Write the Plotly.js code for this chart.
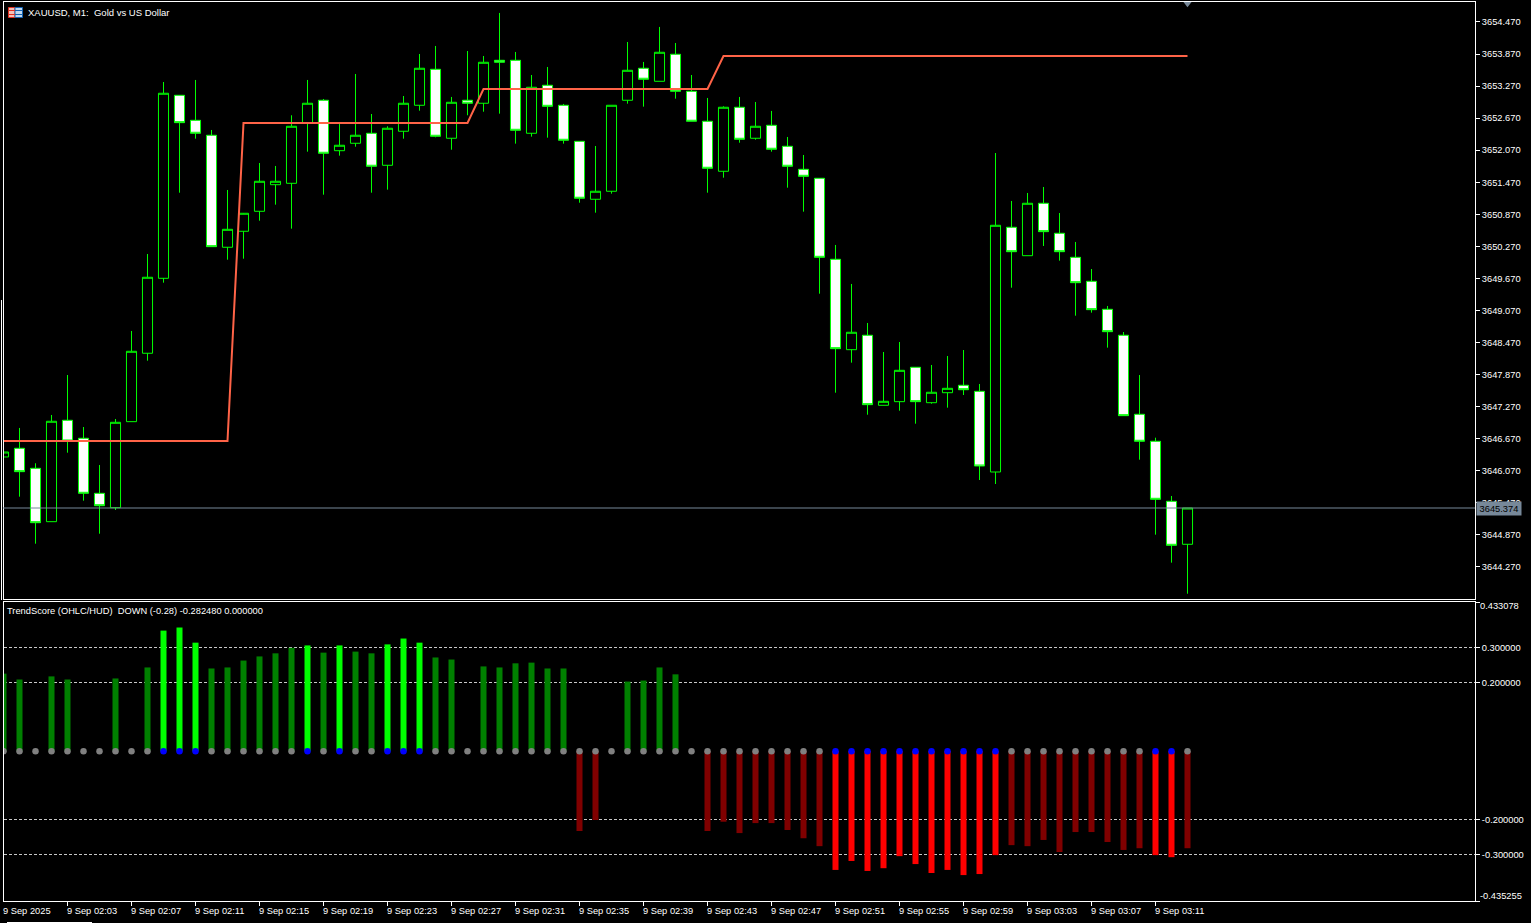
<!DOCTYPE html>
<html>
<head>
<meta charset="utf-8">
<script src="https://cdn.plot.ly/plotly-3.0.1.min.js"></script>
<style>html,body{margin:0;padding:0;background:#000;overflow:hidden}</style>
</head>
<body>
<div id="chart" style="width:1531px;height:923px"></div>
<script>
const bars = [0,1,2,3,4,5,6,7,8,9,10,11,12,13,14,15,16,17,18,19,20,21,22,23,24,25,26,27,28,29,30,31,32,33,34,35,36,37,38,39,40,41,42,43,44,45,46,47,48,49,50,51,52,53,54,55,56,57,58,59,60,61,62,63,64,65,66,67,68,69,70,71,72,73,74];
const open = [3646.329,3646.492,3646.117,3645.118,3647.016,3646.679,3645.649,3645.380,3646.990,3648.270,3649.673,3653.098,3652.630,3652.350,3650.254,3650.553,3650.927,3651.425,3651.451,3652.571,3653.005,3652.061,3652.200,3652.387,3651.788,3652.425,3652.911,3653.585,3652.294,3653.005,3652.949,3653.753,3653.753,3652.387,3653.286,3652.911,3652.237,3651.152,3651.302,3653.005,3653.604,3653.360,3653.866,3653.173,3652.612,3651.676,3652.874,3652.294,3652.537,3652.144,3651.713,3651.545,3650.029,3648.337,3648.607,3647.296,3647.364,3648.008,3647.345,3647.532,3647.671,3647.558,3646.048,3650.628,3650.096,3651.077,3650.516,3650.066,3649.617,3649.093,3648.607,3647.128,3646.623,3645.500,3644.695];
const high = [3646.441,3646.872,3646.211,3647.115,3647.863,3646.890,3646.179,3647.040,3648.687,3650.128,3653.347,3653.098,3653.385,3652.449,3651.326,3650.895,3651.831,3651.775,3652.724,3653.385,3653.029,3652.561,3653.497,3652.748,3652.518,3653.085,3653.871,3654.021,3653.067,3653.927,3653.834,3654.639,3653.909,3653.478,3653.628,3652.936,3652.237,3652.149,3652.911,3654.096,3653.722,3654.377,3654.077,3653.478,3653.048,3652.892,3653.067,3652.973,3652.805,3652.318,3651.981,3651.545,3650.297,3649.567,3648.837,3648.294,3648.481,3648.008,3648.051,3648.219,3648.331,3647.695,3652.018,3651.120,3651.270,3651.382,3650.895,3650.353,3649.847,3649.155,3648.668,3647.863,3646.690,3645.599,3645.374];
const low = [3646.310,3645.586,3644.706,3645.118,3646.409,3645.511,3644.893,3645.337,3646.990,3648.131,3649.591,3651.275,3652.286,3650.265,3650.021,3650.040,3650.751,3651.051,3650.602,3652.043,3651.238,3651.968,3652.136,3651.275,3651.332,3652.286,3652.810,3652.312,3652.080,3652.724,3652.791,3652.754,3652.193,3652.324,3652.305,3652.193,3651.088,3650.901,3651.257,3652.941,3652.885,3653.360,3653.035,3652.612,3651.275,3651.556,3652.211,3652.267,3652.043,3651.369,3650.920,3649.385,3647.532,3648.094,3647.120,3647.296,3647.195,3646.952,3647.326,3647.252,3647.489,3645.898,3645.823,3649.497,3650.096,3650.278,3650.003,3648.973,3649.030,3648.375,3647.102,3646.278,3644.875,3644.351,3643.770];
const close = [3646.422,3646.054,3645.099,3646.997,3646.628,3645.649,3645.417,3646.978,3648.307,3649.692,3653.136,3652.586,3652.387,3650.265,3650.590,3650.890,3651.489,3651.489,3652.518,3652.949,3652.013,3652.163,3652.350,3651.770,3652.481,3652.949,3653.604,3652.331,3652.967,3652.949,3653.716,3653.716,3652.443,3653.248,3652.892,3652.256,3651.171,3651.302,3652.911,3653.566,3653.398,3653.903,3653.173,3652.612,3651.732,3652.874,3652.275,3652.518,3652.088,3651.770,3651.582,3650.066,3648.356,3648.663,3647.308,3647.371,3647.951,3647.364,3647.540,3647.614,3647.588,3646.160,3650.665,3650.171,3651.077,3650.546,3650.171,3649.591,3649.086,3648.674,3647.102,3646.623,3645.537,3644.676,3645.374];
const trend = [3646.628,3646.628,3646.628,3646.628,3646.628,3646.628,3646.628,3646.628,3646.628,3646.628,3646.628,3646.628,3646.628,3646.628,3646.628,3652.580,3652.580,3652.580,3652.580,3652.580,3652.580,3652.580,3652.580,3652.580,3652.580,3652.580,3652.580,3652.580,3652.580,3652.580,3653.216,3653.216,3653.216,3653.216,3653.216,3653.216,3653.216,3653.216,3653.216,3653.216,3653.216,3653.216,3653.216,3653.216,3653.216,3653.834,3653.834,3653.834,3653.834,3653.834,3653.834,3653.834,3653.834,3653.834,3653.834,3653.834,3653.834,3653.834,3653.834,3653.834,3653.834,3653.834,3653.834,3653.834,3653.834,3653.834,3653.834,3653.834,3653.834,3653.834,3653.834,3653.834,3653.834,3653.834,3653.834];
const score = [0.225,0.208,0,0.217,0.208,0,0,0.211,0,0.243,0.350,0.359,0.315,0.240,0.243,0.263,0.275,0.284,0.300,0.307,0.286,0.307,0.289,0.284,0.310,0.327,0.315,0.272,0.266,0,0.246,0.243,0.255,0.257,0.240,0.240,-0.232,-0.200,0,0.202,0.205,0.243,0.223,0,-0.232,-0.205,-0.238,-0.209,-0.209,-0.229,-0.253,-0.276,-0.345,-0.319,-0.348,-0.340,-0.305,-0.328,-0.354,-0.345,-0.360,-0.357,-0.302,-0.273,-0.276,-0.258,-0.293,-0.235,-0.235,-0.264,-0.287,-0.282,-0.302,-0.308,-0.282];
const strong = [0,0,0,0,0,0,0,0,0,0,1,1,1,0,0,0,0,0,0,1,0,1,0,0,1,1,1,0,0,0,0,0,0,0,0,0,0,0,0,0,0,0,0,0,0,0,0,0,0,0,0,0,1,1,1,1,1,1,1,1,1,1,1,0,0,0,0,0,0,0,0,0,1,1,0];
const zeroLine = [0,0,0,0,0,0,0,0,0,0,0,0,0,0,0,0,0,0,0,0,0,0,0,0,0,0,0,0,0,0,0,0,0,0,0,0,0,0,0,0,0,0,0,0,0,0,0,0,0,0,0,0,0,0,0,0,0,0,0,0,0,0,0,0,0,0,0,0,0,0,0,0,0,0,0];
const priceTicks = [3644.27,3644.87,3645.47,3646.07,3646.67,3647.27,3647.87,3648.47,3649.07,3649.67,3650.27,3650.87,3651.47,3652.07,3652.67,3653.27,3653.87,3654.47];
const priceLabels = ["3644.270","3644.870","3645.470","3646.070","3646.670","3647.270","3647.870","3648.470","3649.070","3649.670","3650.270","3650.870","3651.470","3652.070","3652.670","3653.270","3653.870","3654.470"];
const scoreTicks = [-0.435255,-0.3,-0.2,0.2,0.3,0.433078];
const scoreLabels = ["","-0.300000","-0.200000","0.200000","0.300000",""];
const timeTicks = [0,4,8,12,16,20,24,28,32,36,40,44,48,52,56,60,64,68,72];
const timeLabels = ["9 Sep 2025","9 Sep 02:03","9 Sep 02:07","9 Sep 02:11","9 Sep 02:15","9 Sep 02:19","9 Sep 02:23","9 Sep 02:27","9 Sep 02:31","9 Sep 02:35","9 Sep 02:39","9 Sep 02:43","9 Sep 02:47","9 Sep 02:51","9 Sep 02:55","9 Sep 02:59","9 Sep 03:03","9 Sep 03:07","9 Sep 03:11"];
const lastPrice = 3645.374;
const FONT = "Liberation Sans";
const FS = 9.3;
const GREEN = "#00ff00";
const L = 4, T = 2, W = 1471, H = 899;
const px = x => (x - L) / W;
const py = y => (T + H - y) / H;
const xRange = [(L - 3.5) / 16, (L + W - 3.5) / 16];

const candles = {
  type: "candlestick", x: bars, open: open, high: high, low: low, close: close,
  xaxis: "x", yaxis: "y", hoverinfo: "skip", whiskerwidth: 0,
  increasing: {line: {color: GREEN, width: 1}, fillcolor: "#000000"},
  decreasing: {line: {color: GREEN, width: 1}, fillcolor: "#ffffff"}
};
const trendLine = {
  type: "scatter", mode: "lines", x: bars, y: trend, xaxis: "x", yaxis: "y",
  line: {color: "#ff6347", width: 2}, hoverinfo: "skip"
};
const shiftMark = {
  type: "scatter", mode: "markers", x: [74], y: [3654.81], xaxis: "x", yaxis: "y",
  marker: {symbol: "triangle-down", size: 7, color: "#778899"}, hoverinfo: "skip"
};
const barColor = bars.map(i => score[i] >= 0 ? (strong[i] ? "#00ff00" : "#008000") : (strong[i] ? "#ff0000" : "#800000"));
const scoreBars = {
  type: "bar", x: bars, y: score, xaxis: "x2", yaxis: "y2", width: 0.375,
  marker: {color: barColor, line: {width: 0}}, hoverinfo: "skip"
};
const scoreDots = {
  type: "scatter", mode: "markers", x: bars, y: zeroLine, xaxis: "x2", yaxis: "y2",
  marker: {size: 6.5, color: strong.map(s => s ? "#0000ff" : "#808080"), line: {width: 0}}, hoverinfo: "skip"
};

const white = "#ffffff";
const xBase = {
  range: xRange, type: "linear", showgrid: false, zeroline: false,
  showline: true, mirror: true, linecolor: white, linewidth: 1, fixedrange: true
};
const shapes = [
  {type: "line", xref: "paper", yref: "y", x0: px(3), x1: px(1475), y0: lastPrice, y1: lastPrice, line: {color: "#778899", width: 1}},
  {type: "line", xref: "paper", yref: "paper", x0: px(1.5), x1: px(1.5), y0: py(300), y1: py(600), line: {color: white, width: 1}},
  {type: "line", xref: "paper", yref: "paper", x0: px(7), x1: px(92), y0: py(922.5), y1: py(922.5), line: {color: white, width: 1}},
  {type: "rect", xref: "paper", yref: "paper", x0: px(8.5), x1: px(15), y0: py(7.5), y1: py(17.5), fillcolor: "#f4c0b8", line: {color: "#e03020", width: 1}},
  {type: "rect", xref: "paper", yref: "paper", x0: px(15), x1: px(22.5), y0: py(7.5), y1: py(17.5), fillcolor: "#c0d8f0", line: {color: "#1060b0", width: 1}},
  {type: "line", xref: "paper", yref: "paper", x0: px(9), x1: px(15), y0: py(10.5), y1: py(10.5), line: {color: "#e03020", width: 1}},
  {type: "line", xref: "paper", yref: "paper", x0: px(9), x1: px(15), y0: py(14.5), y1: py(14.5), line: {color: "#e03020", width: 1}},
  {type: "line", xref: "paper", yref: "paper", x0: px(15), x1: px(22), y0: py(10.5), y1: py(10.5), line: {color: "#1060b0", width: 1}},
  {type: "line", xref: "paper", yref: "paper", x0: px(15), x1: px(22), y0: py(14.5), y1: py(14.5), line: {color: "#1060b0", width: 1}}
];
const note = (text, x, y, extra) => Object.assign({
  text: text, xref: "paper", yref: "paper", x: px(x), y: py(y), xanchor: "left", yanchor: "middle",
  showarrow: false, align: "left", borderpad: 0, font: {family: FONT, size: FS, color: white}
}, extra || {});
const timeNotes = timeTicks.map((t, k) => note(timeLabels[k], 0, 910.5, {xref: "x2", x: Math.max(t, xRange[0]), xshift: -2}));
const annotations = [
  note("XAUUSD, M1:\u00a0\u00a0Gold vs US Dollar", 27, 12.5, {font: {family: FONT, size: 9.5, color: white}}),
  note("TrendScore (OHLC/HUD)\u00a0\u00a0DOWN (-0.28) -0.282480 0.000000", 6, 610.5),
  note("0.433078", 1479, 606),
  note("-0.435255", 1479, 896),
  note("3645.374", 1476, 508.5, {bgcolor: "#778899", width: 44, height: 13, align: "center", font: {family: FONT, size: FS, color: "#000000"}})
].concat(timeNotes);

const layout = {
  width: 1531, height: 923, paper_bgcolor: "#000000", plot_bgcolor: "#000000",
  margin: {l: L, r: 1531 - L - W, t: T, b: 923 - T - H, pad: 0},
  showlegend: false, boxgap: 0.1, boxgroupgap: 0.3, barmode: "overlay", hovermode: false,
  font: {family: FONT, size: FS, color: white},
  xaxis: Object.assign({}, xBase, {anchor: "y", domain: [0, 1], showticklabels: false, ticks: "", rangeslider: {visible: false}}),
  xaxis2: Object.assign({}, xBase, {anchor: "y2", domain: [0, 1], matches: "x", tickmode: "array", tickvals: timeTicks, showticklabels: false,
    ticks: "outside", ticklen: 4, tickcolor: white, tickwidth: 1, automargin: false}),
  yaxis: {anchor: "x", side: "right", domain: [py(599), 1], range: [3643.671, 3654.844], showgrid: false, zeroline: false,
    tickmode: "array", tickvals: priceTicks, ticktext: priceLabels, ticks: "outside", ticklen: 4, tickcolor: white,
    showline: true, mirror: true, linecolor: white, linewidth: 1, tickfont: {family: FONT, size: FS, color: white}, fixedrange: true, automargin: false},
  yaxis2: {anchor: "x2", side: "right", domain: [0, py(602)], range: [-0.435255, 0.433078], zeroline: false,
    tickmode: "array", tickvals: scoreTicks, ticktext: scoreLabels, ticks: "outside", ticklen: 4, tickcolor: white,
    showgrid: true, gridcolor: "#c8c8c8", griddash: "3px,2px", gridwidth: 1,
    showline: true, mirror: true, linecolor: white, linewidth: 1, tickfont: {family: FONT, size: FS, color: white}, fixedrange: true, automargin: false},
  shapes: shapes, annotations: annotations
};
Plotly.newPlot("chart", [scoreBars, scoreDots, candles, trendLine, shiftMark], layout, {displayModeBar: false, staticPlot: true});
</script>
</body>
</html>
